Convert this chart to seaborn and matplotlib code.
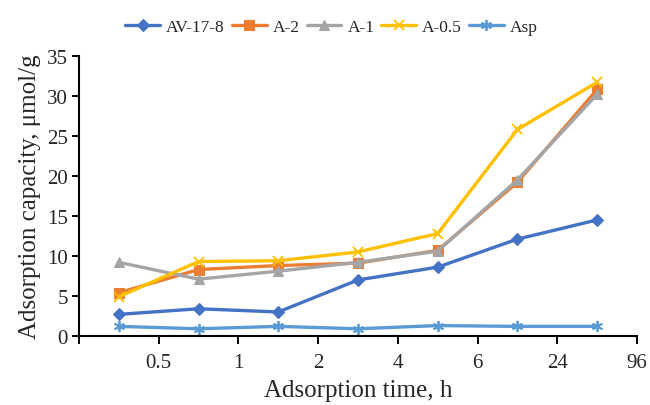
import numpy as np
import pandas as pd
import matplotlib
matplotlib.use("Agg")
import matplotlib.pyplot as plt
import seaborn as sns

time_labels = ["0.5", "1", "2", "4", "6", "24", "96"]
series_names = ["AV-17-8", "A-2", "A-1", "A-0.5", "Asp"]
av_17_8 = [2.7, 3.4, 3.0, 7.0, 8.6, 12.1, 14.5]
a_2 = [5.4, 8.3, 8.8, 9.1, 10.7, 19.2, 30.8]
a_1 = [9.2, 7.1, 8.1, 9.2, 10.6, 19.5, 30.2]
a_05 = [4.9, 9.3, 9.4, 10.5, 12.8, 25.8, 31.7]
asp = [1.2, 0.9, 1.2, 0.9, 1.3, 1.2, 1.2]

colors = ["#4472C4", "#ED7D31", "#A5A5A5", "#FFC000", "#5B9BD5"]
markers = ["D", "s", "^", "x", (6, 2, 0)]
msizes = [6, 7, 7, 7, 8]

sns.set_style("ticks")
plt.rcParams["font.family"] = ["Liberation Serif", "DejaVu Serif"]

values = [av_17_8, a_2, a_1, a_05, asp]
rows = []
for name, vals in zip(series_names, values):
    for i, v in enumerate(vals):
        rows.append({"pos": i, "value": v, "series": name})
df = pd.DataFrame(rows)

fig = plt.figure(figsize=(6.5, 4.06), dpi=100)
ax = fig.add_axes([0.1215, 0.170, 0.8585, 0.690])

for name, c, m, ms in zip(series_names, colors, markers, msizes):
    sub = df[df["series"] == name]
    sns.lineplot(data=sub, x="pos", y="value", ax=ax, color=c, marker=m,
                 markersize=ms, linewidth=2.4, markeredgecolor=c,
                 markeredgewidth=1.3 if m in ("x",) or isinstance(m, tuple) else 0.8,
                 label=name, legend=True)

ax.set_xlim(-0.5, len(time_labels) - 0.5)
ax.set_ylim(0, 35)
ax.set_xticks(np.arange(len(time_labels) + 1) - 0.5)
ax.set_xticklabels([""] + time_labels)
ax.set_yticks(np.arange(0, 36, 5))
ax.tick_params(axis="both", labelsize=15, length=5, width=1.4, color="black",
               direction="out", pad=3)
ax.tick_params(axis="x", length=6, pad=6)
for s in ["top", "right"]:
    ax.spines[s].set_visible(False)
for s in ["left", "bottom"]:
    ax.spines[s].set_linewidth(1.5)
    ax.spines[s].set_color("black")

ax.set_xlabel("Adsorption time, h", fontsize=18, labelpad=5)
ax.set_ylabel("Adsorption capacity, μmol/g", fontsize=18, labelpad=4)

handles, labels = ax.get_legend_handles_labels()
ax.legend_.remove()
fig.legend(handles, labels, loc="center", bbox_to_anchor=(0.51, 0.932), ncol=5,
           frameon=False, fontsize=12.5, handlelength=2.0, handletextpad=0.35,
           columnspacing=0.4)

fig.savefig("out.png", dpi=100)
